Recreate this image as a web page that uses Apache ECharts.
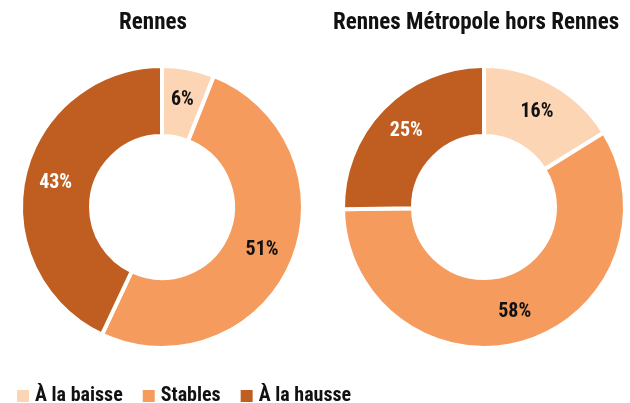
<!DOCTYPE html>
<html>
<head>
<meta charset="utf-8">
<script src="https://cdn.jsdelivr.net/npm/echarts@6/dist/echarts.min.js"></script>
<style>
  html, body { margin: 0; padding: 0; background: #fff; }
  #chart { width: 630px; height: 403px; }
</style>
</head>
<body>
<div id="chart"></div>
<script>
// Répartition des évolutions (en %)
const categories = ['À la baisse', 'Stables', 'À la hausse'];
const rennesValues = [6, 51, 43];
const metropoleValues = [16, 58, 25];
const panelTitles = ['Rennes', 'Rennes Métropole hors Rennes'];

const colors = ['#FCD5B5', '#F59B5D', '#C05E21'];
const labelColors = ['#111', '#111', '#fff'];
const FONT = '"Roboto Condensed", "Open Sans Condensed", "Liberation Sans", sans-serif';

function pieSeries(values, center) {
  return {
    type: 'pie',
    center: center,
    radius: [71, 141],
    startAngle: 90,
    clockwise: true,
    avoidLabelOverlap: false,
    silent: true,
    itemStyle: { borderColor: '#fff', borderWidth: 4 },
    label: {
      show: true,
      position: 'inside',
      formatter: '{c}%',
      fontFamily: FONT,
      fontWeight: 'bold',
      fontSize: 20
    },
    labelLine: { show: false },
    data: values.map((v, i) => ({
      name: categories[i],
      value: v,
      itemStyle: { color: colors[i] },
      label: { color: labelColors[i] }
    }))
  };
}

const titleStyle = { fontFamily: FONT, fontWeight: 'bold', fontSize: 23, color: '#111' };

const chart = echarts.init(document.getElementById('chart'), null, { renderer: 'canvas' });
chart.setOption({
  animation: false,
  title: [
    { text: panelTitles[0], left: 153, top: 12, textAlign: 'center', padding: 0, textStyle: titleStyle },
    { text: panelTitles[1], left: 476, top: 12, textAlign: 'center', padding: 0, textStyle: titleStyle }
  ],
  legend: {
    data: categories,
    left: 15,
    top: 386,
    padding: 0,
    itemWidth: 14,
    itemHeight: 14,
    itemGap: 18,
    icon: 'rect',
    textStyle: { fontFamily: FONT, fontWeight: 'bold', fontSize: 20, color: '#111' }
  },
  series: [
    pieSeries(rennesValues, [162, 207]),
    pieSeries(metropoleValues, [484, 207])
  ]
});
</script>
</body>
</html>
